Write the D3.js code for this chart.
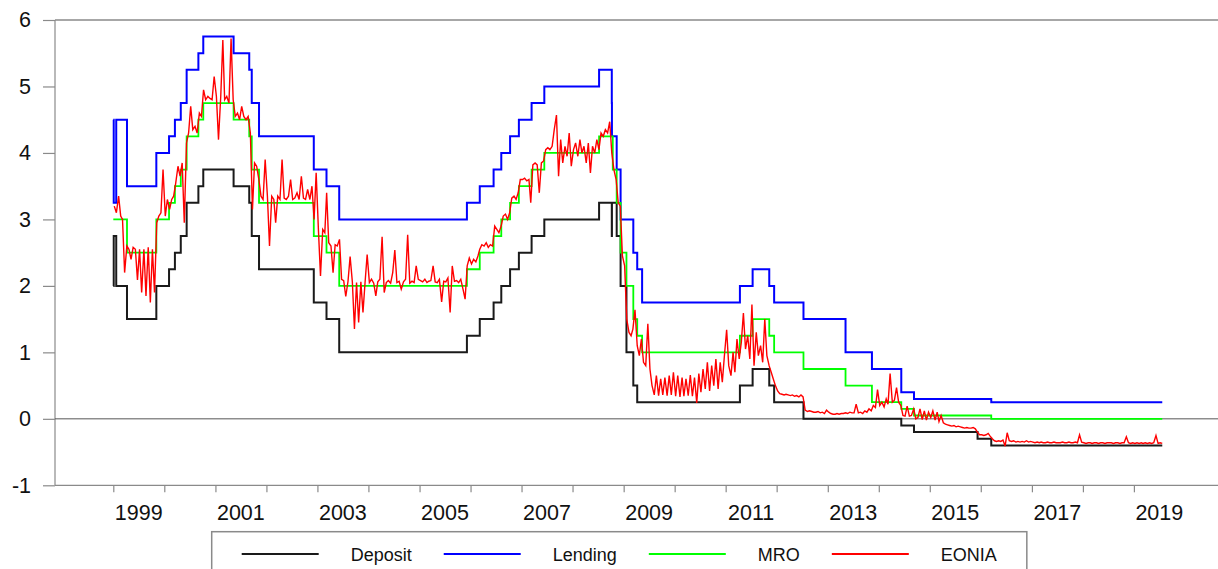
<!DOCTYPE html>
<html>
<head>
<meta charset="utf-8">
<script src="https://cdn.jsdelivr.net/npm/d3@7"></script>
<style>
  body { margin: 0; background: #fff; }
  svg { display: block; font-family: "Liberation Sans", Arial, sans-serif; }
</style>
</head>
<body>
<svg id="chart" width="1218" height="569"></svg>
<script>
// ECB policy rate changes (effective dates)
const changeDates = [
  "1999-01-01","1999-01-04","1999-01-22","1999-04-09","1999-11-05",
  "2000-02-04","2000-03-17","2000-04-28","2000-06-09","2000-09-01","2000-10-06",
  "2001-05-11","2001-08-31","2001-09-18","2001-11-09",
  "2002-12-06","2003-03-07","2003-06-06",
  "2005-12-06","2006-03-08","2006-06-15","2006-08-09","2006-10-11","2006-12-13",
  "2007-03-14","2007-06-13",
  "2008-07-09","2008-10-08","2008-10-09","2008-10-15","2008-11-12","2008-12-10",
  "2009-01-21","2009-03-11","2009-04-08","2009-05-13",
  "2011-04-13","2011-07-13","2011-11-09","2011-12-14",
  "2012-07-11","2013-05-08","2013-11-13","2014-06-11","2014-09-10",
  "2015-12-09","2016-03-16"
];
const deposit = [
  2.00, 2.75, 2.00, 1.50, 2.00,
  2.25, 2.50, 2.75, 3.25, 3.50, 3.75,
  3.50, 3.25, 2.75, 2.25,
  1.75, 1.50, 1.00,
  1.25, 1.50, 1.75, 2.00, 2.25, 2.50,
  2.75, 3.00,
  3.25, 2.75, 3.25, 3.25, 2.75, 2.00,
  1.00, 0.50, 0.25, 0.25,
  0.50, 0.75, 0.50, 0.25,
  0.00, 0.00, 0.00, -0.10, -0.20,
  -0.30, -0.40
];
const lending = [
  4.50, 3.25, 4.50, 3.50, 4.00,
  4.25, 4.50, 4.75, 5.25, 5.50, 5.75,
  5.50, 5.25, 4.75, 4.25,
  3.75, 3.50, 3.00,
  3.25, 3.50, 3.75, 4.00, 4.25, 4.50,
  4.75, 5.00,
  5.25, 4.75, 4.25, 4.25, 3.75, 3.00,
  3.00, 2.50, 2.25, 1.75,
  2.00, 2.25, 2.00, 1.75,
  1.50, 1.00, 0.75, 0.40, 0.30,
  0.30, 0.25
];
const mro = [
  3.00, 3.00, 3.00, 2.50, 3.00,
  3.25, 3.50, 3.75, 4.25, 4.50, 4.75,
  4.50, 4.25, 3.75, 3.25,
  2.75, 2.50, 2.00,
  2.25, 2.50, 2.75, 3.00, 3.25, 3.50,
  3.75, 4.00,
  4.25, 4.25, 4.25, 3.75, 3.25, 2.50,
  2.00, 1.50, 1.25, 1.00,
  1.25, 1.50, 1.25, 1.00,
  0.75, 0.50, 0.25, 0.15, 0.05,
  0.05, 0.00
];
const endDate = "2019-07-23";

// EONIA, two readings per month (1st and 2nd half), Jan 1999 to Jul 2019
const eonia = [
  3.20, 3.10, 3.35, 3.05, 3.00, 2.20, 2.60, 2.55, 2.40, 2.58, 2.55, 2.09, 2.55, 1.90, 2.55, 1.85, 2.58, 1.75, 2.55, 1.90, 2.95, 3.05, 3.10, 3.75,
  3.05, 3.30, 3.15, 3.30, 3.35, 3.55, 3.80, 3.65, 3.85, 2.95, 4.15, 4.30, 4.70, 4.35, 4.40, 4.30, 4.60, 4.55, 4.95, 4.80, 4.85, 4.82, 4.80, 5.15,
  4.85, 4.20, 4.85, 5.70, 4.80, 4.85, 4.75, 5.72, 4.80, 4.55, 4.60, 4.50, 4.70, 4.55, 4.50, 4.55, 4.30, 3.15, 3.85, 3.80, 3.60, 3.35, 3.30, 3.90,
  3.35, 2.60, 3.35, 3.30, 2.95, 3.35, 3.30, 3.90, 3.32, 3.30, 3.35, 3.60, 3.30, 3.32, 3.40, 3.30, 3.65, 3.32, 3.30, 3.45, 3.30, 3.50, 3.00, 3.70,
  2.85, 2.15, 2.85, 2.80, 3.40, 2.65, 2.60, 2.20, 2.62, 2.60, 2.70, 2.10, 2.08, 1.84, 2.07, 2.44, 2.06, 1.35, 2.05, 1.45, 2.06, 1.60, 2.05, 2.47,
  2.05, 2.10, 2.04, 1.85, 2.06, 2.10, 2.74, 1.90, 2.05, 2.08, 2.04, 2.20, 2.54, 2.05, 2.07, 1.95, 2.06, 2.10, 2.77, 2.04, 2.07, 2.05, 2.30, 2.10,
  2.08, 2.06, 2.10, 2.05, 2.07, 2.08, 2.30, 2.06, 2.05, 2.10, 1.76, 2.07, 2.06, 2.12, 1.60, 2.30, 2.07, 2.08, 2.05, 2.10, 1.95, 1.80, 2.30, 2.42,
  2.33, 2.40, 2.36, 2.45, 2.55, 2.62, 2.60, 2.65, 2.58, 2.62, 2.60, 2.90, 2.85, 2.80, 2.90, 3.05, 3.08, 3.00, 3.10, 3.32, 3.35, 3.30, 3.40, 3.60,
  3.60, 3.62, 3.58, 3.60, 3.25, 3.82, 3.85, 3.82, 3.40, 3.85, 3.88, 4.05, 4.08, 4.05, 4.10, 4.35, 4.57, 3.65, 4.20, 3.85, 4.10, 3.95, 4.30, 3.80,
  4.05, 4.15, 3.95, 4.20, 4.00, 4.10, 3.85, 4.15, 3.70, 4.10, 4.00, 4.20, 4.05, 4.30, 4.25, 4.35, 4.30, 4.47, 4.00, 3.75, 3.60, 3.25, 3.20, 2.45,
  2.30, 1.50, 1.30, 1.25, 1.35, 1.64, 1.10, 0.95, 1.20, 0.85, 0.80, 1.43, 0.75, 0.50, 0.36, 0.65, 0.35, 0.60, 0.36, 0.62, 0.35, 0.65, 0.36, 0.70,
  0.34, 0.65, 0.33, 0.62, 0.34, 0.60, 0.35, 0.66, 0.34, 0.62, 0.24, 0.68, 0.40, 0.75, 0.45, 0.85, 0.42, 0.80, 0.50, 0.90, 0.45, 0.85, 0.55, 0.95,
  1.34, 0.80, 0.65, 1.00, 0.70, 1.20, 0.90, 1.15, 1.59, 1.05, 1.25, 0.90, 1.72, 0.80, 1.30, 0.95, 1.10, 0.85, 1.50, 0.95, 0.80, 0.70, 0.60, 0.50,
  0.42, 0.38, 0.37, 0.36, 0.37, 0.36, 0.35, 0.36, 0.34, 0.35, 0.33, 0.36, 0.33, 0.13, 0.11, 0.12, 0.11, 0.10, 0.10, 0.11, 0.09, 0.10, 0.08, 0.13,
  0.10, 0.08, 0.07, 0.07, 0.08, 0.07, 0.08, 0.08, 0.09, 0.08, 0.10, 0.09, 0.09, 0.22, 0.09, 0.10, 0.08, 0.12, 0.10, 0.15, 0.12, 0.20, 0.17, 0.44,
  0.20, 0.25, 0.18, 0.30, 0.22, 0.68, 0.25, 0.28, 0.47, 0.25, 0.20, 0.05, 0.04, 0.19, 0.04, 0.05, 0.15, 0.00, 0.02, 0.15, -0.01, 0.12, -0.02, 0.10,
  0.02, 0.12, -0.02, 0.10, -0.04, 0.05, -0.06, -0.08, -0.09, -0.10, -0.11, -0.10, -0.12, -0.11, -0.12, -0.13, -0.14, -0.13, -0.14, -0.14, -0.13, -0.15, -0.20, -0.24,
  -0.24, -0.25, -0.24, -0.22, -0.26, -0.30, -0.33, -0.34, -0.33, -0.34, -0.32, -0.41, -0.21, -0.33, -0.34, -0.33, -0.35, -0.34, -0.35, -0.34, -0.35, -0.33, -0.35, -0.34,
  -0.35, -0.36, -0.35, -0.36, -0.35, -0.36, -0.36, -0.35, -0.36, -0.36, -0.35, -0.36, -0.36, -0.36, -0.35, -0.36, -0.36, -0.35, -0.36, -0.36, -0.35, -0.36, -0.24, -0.35,
  -0.36, -0.37, -0.36, -0.36, -0.37, -0.36, -0.36, -0.37, -0.36, -0.36, -0.37, -0.36, -0.36, -0.36, -0.37, -0.36, -0.36, -0.37, -0.36, -0.36, -0.27, -0.36, -0.37, -0.36,
  -0.37, -0.36, -0.37, -0.36, -0.37, -0.36, -0.37, -0.36, -0.37, -0.36, -0.25, -0.37, -0.36, -0.37
];

const yTicks = [-1, 0, 1, 2, 3, 4, 5, 6];
const tickYears = d3.range(1999, 2020);
const labelYears = [1999, 2001, 2003, 2005, 2007, 2009, 2011, 2013, 2015, 2017, 2019];
const seriesNames = ["Deposit", "Lending", "MRO", "EONIA"];
const seriesColors = ["#1a1a1a", "#0000ff", "#00ff00", "#ff0000"];

const W = 1218, left = 55;
const parse = d3.timeParse("%Y-%m-%d");
const svg = d3.select("#chart");

const x = d3.scaleTime()
  .domain([new Date(1999, 0, 1), new Date(2019, 0, 1)])
  .range([113.3, 1133.9]);
const y = d3.scaleLinear().domain([-1, 6]).range([485.3, 20]);

// frame
svg.append("line").attr("x1", left).attr("x2", W).attr("y1", y(6)).attr("y2", y(6))
  .attr("stroke", "#8a8a8a").attr("stroke-width", 1.5);
svg.append("line").attr("x1", left).attr("x2", left).attr("y1", y(6)).attr("y2", y(-1))
  .attr("stroke", "#8a8a8a").attr("stroke-width", 1.2);
svg.append("line").attr("x1", left).attr("x2", W).attr("y1", y(-1)).attr("y2", y(-1))
  .attr("stroke", "#8a8a8a").attr("stroke-width", 1.2);
svg.append("line").attr("x1", left).attr("x2", W).attr("y1", y(0)).attr("y2", y(0))
  .attr("stroke", "#555").attr("stroke-width", 1);

// y axis
const yAxis = svg.append("g").attr("transform", `translate(${left},0)`)
  .call(d3.axisLeft(y).tickValues(yTicks).tickSize(12).tickPadding(12).tickFormat(d => String(d)));
yAxis.select(".domain").remove();
yAxis.selectAll(".tick line").attr("stroke", "#8a8a8a").attr("stroke-width", 1.2);
yAxis.selectAll(".tick text").attr("fill", "#111").style("font-size", "21.5px")
  .style("font-family", "'Liberation Sans', Arial, sans-serif");

// x axis: ticks at year starts, labels in the middle of odd years
const xAxis = svg.append("g").attr("transform", `translate(0,${y(-1)})`)
  .call(d3.axisBottom(x).tickValues(tickYears.map(yr => new Date(yr, 0, 1))).tickSize(7).tickFormat(""));
xAxis.select(".domain").remove();
xAxis.selectAll(".tick line").attr("stroke", "#8a8a8a").attr("stroke-width", 1.2);

svg.append("g").selectAll("text").data(labelYears).join("text")
  .attr("x", yr => x(new Date(yr, 6, 2)))
  .attr("y", 520)
  .attr("text-anchor", "middle")
  .attr("fill", "#111")
  .style("font-size", "21.5px")
  .text(yr => yr);

// series
function stepSeries(vals) {
  const pts = changeDates.map((d, i) => ({ date: parse(d), value: vals[i] }));
  pts.push({ date: parse(endDate), value: vals[vals.length - 1] });
  return pts;
}
const stepLine = d3.line().x(d => x(d.date)).y(d => y(d.value)).curve(d3.curveStepAfter);
const plainLine = d3.line().x(d => x(d.date)).y(d => y(d.value));

const eoniaPts = eonia.map((v, i) => ({
  date: new Date(1999 + Math.floor(i / 24), Math.floor((i % 24) / 2), i % 2 ? 23 : 8),
  value: v
}));

const paths = [
  { d: stepLine(stepSeries(deposit)), c: seriesColors[0], w: 2 },
  { d: stepLine(stepSeries(lending)), c: seriesColors[1], w: 2 },
  { d: stepLine(stepSeries(mro)), c: seriesColors[2], w: 1.8 },
  { d: plainLine(eoniaPts), c: seriesColors[3], w: 1.4 }
];
svg.append("g").selectAll("path").data(paths).join("path")
  .attr("d", p => p.d)
  .attr("fill", "none")
  .attr("stroke", p => p.c)
  .attr("stroke-width", p => p.w)
  .attr("stroke-linejoin", "miter");

// legend
const lg = svg.append("g");
const box = lg.append("rect").attr("x", 211.7).attr("y", 531.7).attr("height", 60)
  .attr("fill", "#fff").attr("stroke", "#8a8a8a").attr("stroke-width", 1.5);
let cx = 241.7;
const ly = 554;
seriesNames.forEach((name, i) => {
  lg.append("line").attr("x1", cx).attr("x2", cx + 77).attr("y1", ly).attr("y2", ly)
    .attr("stroke", seriesColors[i]).attr("stroke-width", 2);
  cx += 77 + 32;
  const t = lg.append("text").attr("x", cx).attr("y", ly + 6.5)
    .attr("fill", "#111").style("font-size", "18px").text(name);
  cx += t.node().getComputedTextLength() + (i < seriesNames.length - 1 ? 32 : 30);
});
box.attr("width", cx - 211.7);
</script>
</body>
</html>
